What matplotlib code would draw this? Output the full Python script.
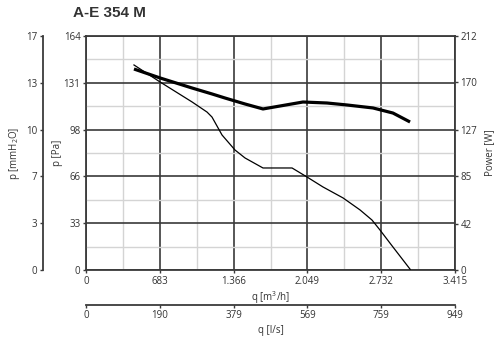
import matplotlib
matplotlib.use('Agg')
import matplotlib.pyplot as plt
from matplotlib.ticker import MultipleLocator

plt.rcParams['font.family'] = ['Open Sans', 'DejaVu Sans']
plt.rcParams['mathtext.fontset'] = 'custom'
plt.rcParams['mathtext.rm'] = 'Open Sans'
plt.rcParams['mathtext.it'] = 'Open Sans'

TXT = '#333333'
DARK = '#3a3a3a'

# pressure curve, q [m3/h] vs p [Pa]
q_p = [444, 685, 981, 1120, 1166, 1259, 1379, 1472, 1638, 1907, 2045,
       2193, 2379, 2536, 2647, 2721, 2841, 3000]
p_pa = [143.7, 131.8, 117.8, 110.7, 107.2, 94.6, 84.1, 78.5, 71.5, 71.5, 65.2,
        58.2, 50.5, 42.1, 35.0, 28.0, 16.1, 0.5]

# power curve, q [m3/h] vs P [W]
q_w = [444, 685, 981, 1166, 1287, 1472, 1638, 2008, 2230, 2416, 2656, 2841, 2999]
power = [182.1, 174.0, 164.9, 159.5, 155.8, 150.4, 145.9, 152.2, 151.3,
         149.5, 146.8, 142.2, 134.1]

x_ticks = [0, 683, 1366, 2049, 2732, 3415]
x_labels = ['0', '683', '1.366', '2.049', '2.732', '3.415']
ls_labels = ['0', '190', '379', '569', '759', '949']
pa_ticks = [0, 33, 66, 98, 131, 164]
mm_labels = ['0', '3', '7', '10', '13', '17']
w_ticks = [0, 42, 85, 127, 170, 212]

fig = plt.figure(figsize=(5.01, 3.40), dpi=100)
ax = fig.add_axes([86 / 501, 70 / 340, 369 / 501, 234 / 340])

ax.set_xlim(0, 3415)
ax.set_ylim(0, 164)
ax.set_xticks(x_ticks)
ax.set_xticklabels(x_labels)
ax.set_yticks(pa_ticks)
ax.xaxis.set_minor_locator(MultipleLocator(341.5))
ax.set_yticks([16.4, 49.2, 82, 114.8, 147.6], minor=True)
ax.grid(True, which='major', color=DARK, linewidth=1.2)
ax.grid(True, which='minor', color='#d4d4d4', linewidth=1.0)
ax.set_axisbelow(True)
ax.tick_params(which='minor', length=0)
ax.tick_params(which='major', length=2.5, width=1, color=DARK, labelsize=7, labelcolor=TXT, pad=1.5)
for s in ax.spines.values():
    s.set_color(DARK)
    s.set_linewidth(1.3)

ax.plot(q_p, p_pa, color='black', linewidth=0.9, zorder=3)
ax.set_ylabel('p [Pa]', fontsize=7, color=TXT, labelpad=0.5)
ax.set_xlabel('q [m$^3$/h]', fontsize=7, color=TXT, labelpad=2)

# power axis on the right
axw = ax.twinx()
axw.set_ylim(0, 212)
axw.set_yticks(w_ticks)
axw.tick_params(length=2.5, width=1, color=DARK, labelsize=7, labelcolor=TXT, pad=1.5)
axw.plot(q_w, power, color='black', linewidth=2.3, solid_capstyle='butt', zorder=4)
axw.set_ylabel('Power [W]', fontsize=7, color=TXT, labelpad=4.5)
for s in axw.spines.values():
    s.set_visible(False)

# outer left axis in mmH2O
axm = ax.twinx()
axm.set_ylim(0, 164)
axm.yaxis.set_ticks_position('left')
axm.yaxis.set_label_position('left')
axm.spines['left'].set_position(('outward', 31))
axm.spines['left'].set_color(DARK)
axm.spines['left'].set_linewidth(1.3)
for k in ['right', 'top', 'bottom']:
    axm.spines[k].set_visible(False)
axm.set_yticks(pa_ticks)
axm.set_yticklabels(mm_labels)
axm.tick_params(length=2.5, width=1, color=DARK, labelsize=7, labelcolor=TXT, pad=1.5)
axm.set_ylabel('p [mmH$_2$O]', fontsize=7, color=TXT, labelpad=3)

# second x axis in l/s
axl = ax.twiny()
axl.set_xlim(0, 3415)
axl.xaxis.set_ticks_position('bottom')
axl.xaxis.set_label_position('bottom')
axl.spines['bottom'].set_position(('outward', 25))
axl.spines['bottom'].set_color(DARK)
axl.spines['bottom'].set_linewidth(1.3)
for k in ['left', 'right', 'top']:
    axl.spines[k].set_visible(False)
axl.set_xticks(x_ticks)
axl.set_xticklabels(ls_labels)
axl.tick_params(length=2.5, width=1, color=DARK, labelsize=7, labelcolor=TXT, pad=1.5)
axl.set_xlabel('q [l/s]', fontsize=7, color=TXT, labelpad=3)

fig.text(73 / 501, 1 - 13 / 340, 'A-E 354 M', fontsize=11, fontweight='bold',
         family='Liberation Sans', color=TXT, va='center', ha='left')

fig.savefig('out.png', dpi=100)
